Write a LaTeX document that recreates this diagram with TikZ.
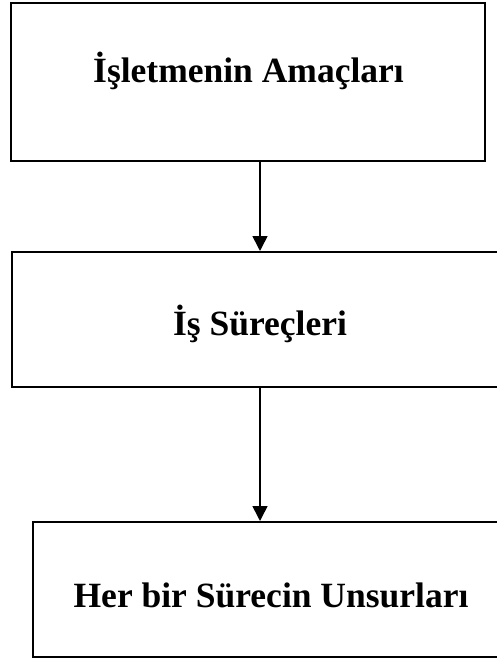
\documentclass[tikz,border=0pt]{standalone}
\usepackage{fontspec}
\setmainfont{Liberation Serif}
\usetikzlibrary{arrows.meta}
\begin{document}
\begin{tikzpicture}[x=1pt,y=-1pt,
  box/.style={draw=black, line width=2pt, inner sep=0pt, rectangle},
  lbl/.style={anchor=base, inner sep=0pt, font=\fontsize{35.5}{40}\selectfont\bfseries},
  conn/.style={draw=black, line width=1.6pt, -{Triangle[width=15pt,length=15pt]}}]
\useasboundingbox (0,0) rectangle (497,660);
\clip (0,0) rectangle (497,660);
\node[box, minimum width=474pt, minimum height=158pt] (b1) at (248,82) {};
\node[box, minimum width=496pt, minimum height=135pt] (b2) at (260,319.5) {};
\node[box, minimum width=476pt, minimum height=135pt] (b3) at (271,589.5) {};
\node[lbl] (t1) at (248.5,83) {İşletmenin Amaçları};
\node[lbl] (t2) at (260,335) {İş Süreçleri};
\node[lbl] (t3) at (271,607) {Her bir Sürecin Unsurları};
\draw[conn] (b1.south -| b2.north) -- (b2.north);
\draw[conn] (b2.south) -- (b2.south |- b3.north);
\end{tikzpicture}
\end{document}
